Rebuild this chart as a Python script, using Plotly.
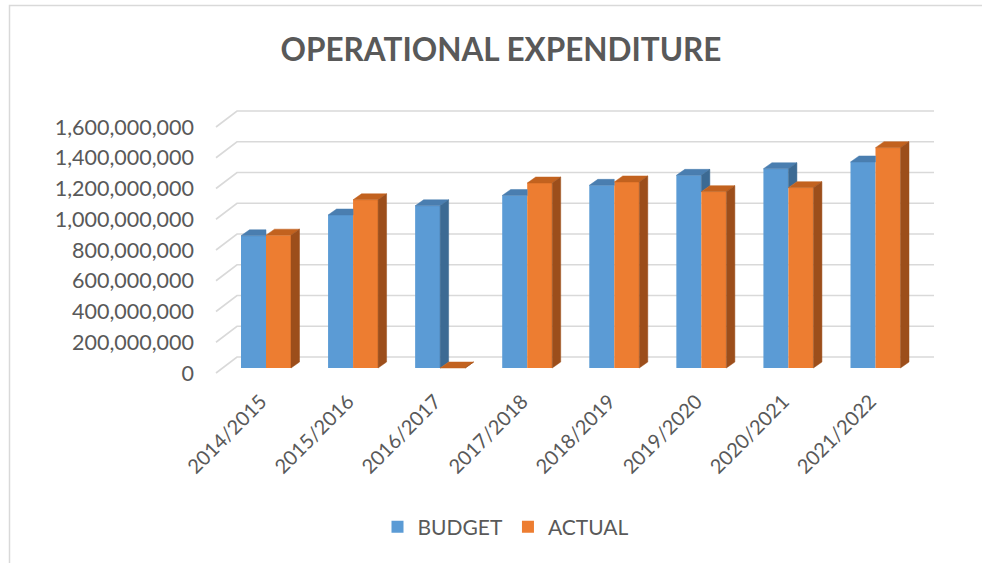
import plotly.graph_objects as go

# ---------------- data ----------------
years = ["2014/2015", "2015/2016", "2016/2017", "2017/2018",
         "2018/2019", "2019/2020", "2020/2021", "2021/2022"]
budget = [860e6, 995e6, 1055e6, 1122e6, 1188e6, 1253e6, 1296e6, 1340e6]
actual = [864e6, 1094e6, 0, 1203e6, 1210e6, 1147e6, 1173e6, 1433e6]
y_ticks = [0, 200e6, 400e6, 600e6, 800e6, 1000e6, 1200e6, 1400e6, 1600e6]

# ---------------- layout geometry (pixels) ----------------
W, H = 982, 563
ML, MR, MT, MB = 214, 46, 100, 183
X0_PX, STEP_PX = 266.0, 87.07          # pixel of category 0 centre, px per category
Y0_PX, PX_PER_VAL = 368.0, 30.75 / 200e6

x_range = [(ML - X0_PX) / STEP_PX, (W - MR - X0_PX) / STEP_PX]
y_range = [-((H - MB) - Y0_PX) / PX_PER_VAL, (Y0_PX - MT) / PX_PER_VAL]

bw = 25 / STEP_PX                # bar width (category units)
dx = 8.5 / STEP_PX               # 3D depth, horizontal
dy = 6.0 / PX_PER_VAL            # 3D depth, vertical

BLUE, BLUE_TOP, BLUE_SIDE = "#5B9BD5", "#4A7EB0", "#3C6A93"
ORANGE, ORANGE_TOP, ORANGE_SIDE = "#ED7D31", "#C2621F", "#9C4E1B"
GRID = "#D9D9D9"
TEXT = "#595959"
FONT = "Lato"

xs = list(range(len(years)))

fig = go.Figure()
fig.add_trace(go.Bar(x=xs, y=budget, name="BUDGET", marker=dict(color=BLUE, line=dict(width=0))))
fig.add_trace(go.Bar(x=xs, y=actual, name="ACTUAL", marker=dict(color=ORANGE, line=dict(width=0))))

def poly_trace(polys, color):
    px, py = [], []
    for p in polys:
        for (a, b) in p + [p[0]]:
            px.append(a)
            py.append(b)
        px.append(None)
        py.append(None)
    return go.Scatter(x=px, y=py, mode="lines", fill="toself", fillcolor=color,
                      line=dict(color=color, width=0.5), showlegend=False,
                      hoverinfo="skip")

blue_top, blue_side, orange_top, orange_side = [], [], [], []
for i, (hb, ho) in enumerate(zip(budget, actual)):
    xl, xr, xr2 = i - bw, i, i + bw
    if ho > hb:
        blue_top.append([(xl, hb), (xr, hb), (xr, hb + dy), (xl + dx, hb + dy)])
    else:
        blue_top.append([(xl, hb), (xr, hb), (xr + dx, hb + dy), (xl + dx, hb + dy)])
        blue_side.append([(xr, hb), (xr + dx, hb + dy), (xr + dx, ho + dy), (xr, ho)])
    orange_top.append([(xr, ho), (xr2, ho), (xr2 + dx, ho + dy), (xr + dx, ho + dy)])
    orange_side.append([(xr2, ho), (xr2 + dx, ho + dy), (xr2 + dx, dy), (xr2, 0)])

fig.add_trace(poly_trace(blue_top, BLUE_TOP))
fig.add_trace(poly_trace(blue_side, BLUE_SIDE))
fig.add_trace(poly_trace(orange_top, ORANGE_TOP))
fig.add_trace(poly_trace(orange_side, ORANGE_SIDE))

# back wall gridlines with slanted floor/side edge
back_dy = 11 / PX_PER_VAL
front_dy = -5 / PX_PER_VAL
back_left = (237 - X0_PX) / STEP_PX
front_left = (216 - X0_PX) / STEP_PX
right_end = (934 - X0_PX) / STEP_PX
shapes = []
for v in y_ticks:
    shapes.append(dict(type="path", xref="x", yref="y", layer="below",
                       path=f"M{front_left},{v + front_dy} L{back_left},{v + back_dy} L{right_end},{v + back_dy}",
                       line=dict(color=GRID, width=1.6)))

# chart border
def px_x(p):
    return (p - ML) / (W - ML - MR)

def px_y(p):
    return ((H - MB) - p) / (H - MT - MB)

shapes.append(dict(type="rect", xref="paper", yref="paper", layer="below",
                   x0=px_x(9.5), x1=px_x(W + 10), y0=px_y(H + 10), y1=px_y(5.5),
                   line=dict(color=GRID, width=1.5)))

fig.update_layout(
    width=W, height=H,
    margin=dict(l=ML, r=MR, t=MT, b=MB),
    paper_bgcolor="white", plot_bgcolor="white",
    barmode="group", bargap=1 - 2 * bw, bargroupgap=0,
    font=dict(family=FONT, color=TEXT, size=21),
    title=dict(text="<b>OPERATIONAL EXPENDITURE</b>", x=501 / W, xanchor="center",
               y=1 - 50 / H, yanchor="middle",
               font=dict(family=FONT, size=31.5, color=TEXT)),
    showlegend=True,
    legend=dict(orientation="h", x=px_x(506), xanchor="center", y=px_y(527), yanchor="middle",
                font=dict(family=FONT, size=21, color=TEXT), traceorder="normal"),
    shapes=shapes,
    xaxis=dict(range=x_range, tickvals=xs, ticktext=years, tickangle=-45,
               showgrid=False, zeroline=False, showline=False, ticks="",
               ticklabelstandoff=5, ticklabelshift=-5,
               tickfont=dict(family=FONT, size=20, color=TEXT)),
    yaxis=dict(range=y_range, tickvals=y_ticks, tickformat=",d",
               showgrid=False, zeroline=False, showline=False, ticks="",
               ticklabelshift=5, ticklabelstandoff=19,
               tickfont=dict(family=FONT, size=21.5, color=TEXT)),
)

fig.write_html("out.html", config={"displayModeBar": False},
               post_script="document.body.style.margin='0';document.body.style.padding='0';")
